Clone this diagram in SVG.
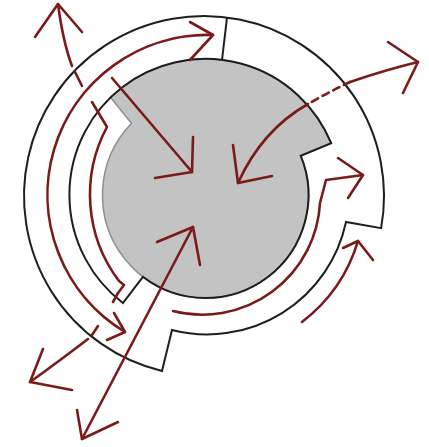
<svg xmlns="http://www.w3.org/2000/svg" width="429" height="447" viewBox="0 0 429 447">
<style>
.bk{fill:none;stroke:#1e1e1e;stroke-width:2;stroke-linejoin:miter}
.rd{fill:none;stroke:#7a1a1a;stroke-width:2.6;stroke-linecap:round;stroke-linejoin:round}
.nuc{fill:#c3c3c3;stroke:#8f8f8f;stroke-width:1.5}
</style>
<rect width="429" height="447" fill="#ffffff"/>
<g id="nucleus">
<path class="nuc" d="M110.7,97.5 A136,136 0 0 1 331.2,143.2 L300.7,155.7 A103,103 0 1 1 131.4,123.4 Z"/>
</g>
<g id="outer-wall">
<path class="bk" d="M162,371 A180,180 0 1 1 381.1,228.2 L346,222 A142,142 0 0 1 172,330 Z"/>
<line class="bk" x1="227" y1="17.5" x2="222" y2="60"/>
</g>
<g id="inner-wall">
<path class="bk" d="M331.2,143.2 A136,136 0 1 0 122.9,303 L142.9,276.8 A103,103 0 0 0 300.7,155.7 Z"/>
</g>
<g id="connectors">
<!-- outer ring double arc -->
<path class="rd" d="M125,332 A160,160 0 0 1 213,35"/>
<polyline class="rd" points="190,22 213,35 190,60"/>
<polyline class="rd" points="114,313 125,332 107,340"/>
<!-- top-left outward / inner left channel / bottom-left outward -->
<path class="rd" d="M58,4 Q63,42 72,66"/>
<path class="rd" d="M75,72 L82,86"/>
<path class="rd" d="M92,102 L107,127 A143,143 0 0 0 119,281 L124,285 L118,293 L113,302"/>
<path class="rd" d="M98,326 L92,335"/>
<path class="rd" d="M88,339 Q58,362 30,382"/>
<polyline class="rd" points="35,37 58,4 82,32"/>
<polyline class="rd" points="43,349 30,382 72,390"/>
<!-- top-left inward -->
<line class="rd" x1="112" y1="78" x2="192" y2="172"/>
<polyline class="rd" points="193,137 192,172 155,178"/>
<!-- top-right double curved arrow -->
<path class="rd" d="M238,183 Q262,130 308,104"/>
<path class="rd" d="M350,82 Q329,92 308,104" stroke-dasharray="7 5" stroke-linecap="butt"/>
<path class="rd" d="M350,82 Q385,70 418,62"/>
<polyline class="rd" points="388,42 418,62 403,93"/>
<polyline class="rd" points="233,145 238,183 272,176"/>
<!-- right channel -->
<path class="rd" d="M173,311 A118,118 0 0 0 320,203 L326,180 L363,175"/>
<polyline class="rd" points="338,158 363,175 348,198"/>
<!-- bottom-right outside -->
<path class="rd" d="M302,322 A160,160 0 0 0 358,241"/>
<polyline class="rd" points="343,248 358,241 373,260"/>
<!-- bottom-left straight double arrow -->
<line class="rd" x1="82" y1="439" x2="193" y2="227"/>
<polyline class="rd" points="157,242 193,227 200,265"/>
<polyline class="rd" points="77,410 82,439 118,422"/>
</g>
</svg>
